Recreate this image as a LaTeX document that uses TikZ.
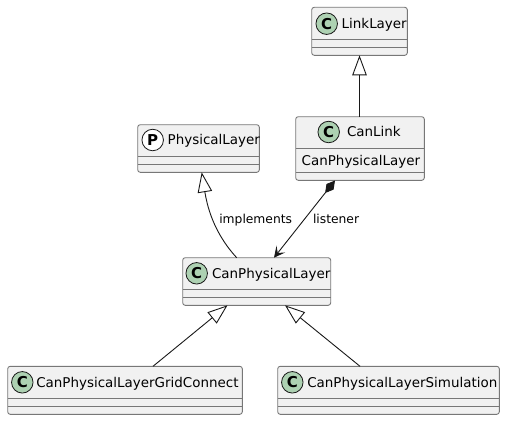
\documentclass[tikz,border=0pt]{standalone}
\usepackage{fontspec}
\setmainfont{DejaVu Sans}
\usetikzlibrary{arrows.meta}
\definecolor{boxfill}{HTML}{F1F1F1}
\definecolor{boxline}{HTML}{777777}
\definecolor{ink}{HTML}{181818}
\definecolor{badgeC}{HTML}{ADD1B2}
\tikzset{
  x=1pt,y=-1pt,
  umlbox/.style={draw=boxline,fill=boxfill,line width=0.9pt,rounded corners=2.5pt,anchor=north west,inner sep=0pt,outer sep=0pt},
  sepline/.style={draw=boxline,line width=0.9pt},
  badge/.style={circle,draw=ink,line width=0.8pt,minimum size=21.5pt,inner sep=0pt,font=\fontsize{15}{15}\selectfont\bfseries},
  cbadge/.style={badge,fill=badgeC},
  pbadge/.style={badge,fill=white},
  lbl/.style={anchor=base west,inner sep=0pt,outer sep=0pt,text=black,font=\fontsize{13.45}{15}\selectfont},
  edgelbl/.style={anchor=base west,inner sep=0pt,outer sep=0pt,text=black,font=\fontsize{12.3}{14}\selectfont},
  conn/.style={draw=ink,line width=0.9pt},
  inherit/.style={conn,{Triangle[open,length=20pt,width=14.5pt,fill=white]}-},
  compose/.style={conn,{Diamond[length=16pt,width=9pt,fill=ink]}-{Stealth[length=11pt,width=11pt,inset=5pt,fill=ink]}},
}
\newcommand{\umlclass}[6]{% name, x, y, w, h, seplist
  \node[umlbox,minimum width=#4pt,minimum height=#5pt] (#1) at (#2,#3) {};
  \foreach \s in {#6}{\draw[sepline] (#2,#3+\s) -- (#2+#4,#3+\s);}
}
\begin{document}
\begin{tikzpicture}
\useasboundingbox (0,0) rectangle (505,420);
% boxes
\umlclass{linklayer}{311.7}{7.3}{95.6}{48}{32,40}
\umlclass{canlink}{295.7}{116.7}{128.6}{63.6}{31.6,55.6}
\umlclass{physical}{137.7}{124.7}{121.6}{47.6}{31.3,39.3}
\umlclass{canphys}{182.7}{257.7}{148}{47.6}{31.6,39.6}
\umlclass{grid}{7.7}{366.3}{234.6}{48}{32,40}
\umlclass{sim}{277.7}{366.3}{221.6}{48}{32,40}
% badges
\node[cbadge] (b1) at (326.7,23.7) {C};
\node[cbadge] (b2) at (328.7,132) {C};
\node[pbadge] (b3) at (152.7,140) {P};
\node[cbadge] (b4) at (196.7,273.3) {C};
\node[cbadge] (b5) at (22.3,382.3) {C};
\node[cbadge] (b6) at (292.3,382.3) {C};
% names
\node[lbl] (t1) at (341.7,28.4) {LinkLayer};
\node[lbl] (t2) at (347,136.7) {CanLink};
\node[lbl] (t2f) at (301.7,165.6) {CanPhysicalLayer};
\node[lbl] (t3) at (167.7,144.7) {PhysicalLayer};
\node[lbl] (t4) at (212,278) {CanPhysicalLayer};
\node[lbl] (t5) at (36.3,387) {CanPhysicalLayerGridConnect};
\node[lbl] (t6) at (307.3,387) {CanPhysicalLayerSimulation};
% free ends on the boxes
\coordinate (pTip) at (201.7,172.3);
\coordinate (cpTop) at (236.7,257.7);
\coordinate (clBot) at (335,180.5);
\coordinate (cpIn) at (274,257.7);
\coordinate (cpB1) at (227.5,305.3);
\coordinate (gTop) at (153,366.3);
\coordinate (cpB2) at (285,305.3);
\coordinate (sTop) at (360,366.3);
% connectors
\draw[inherit] (linklayer.south) -- (linklayer.south |- canlink.north);
\draw[inherit] (pTip) .. controls (207,205) and (213,232) .. (cpTop);
\draw[compose] (clBot) -- (cpIn);
\draw[inherit] (cpB1) -- (gTop);
\draw[inherit] (cpB2) -- (sTop);
% edge labels
\node[edgelbl] (e1) at (219.3,223.5) {implements};
\node[edgelbl] (e2) at (313,223.5) {listener};
\end{tikzpicture}
\end{document}
